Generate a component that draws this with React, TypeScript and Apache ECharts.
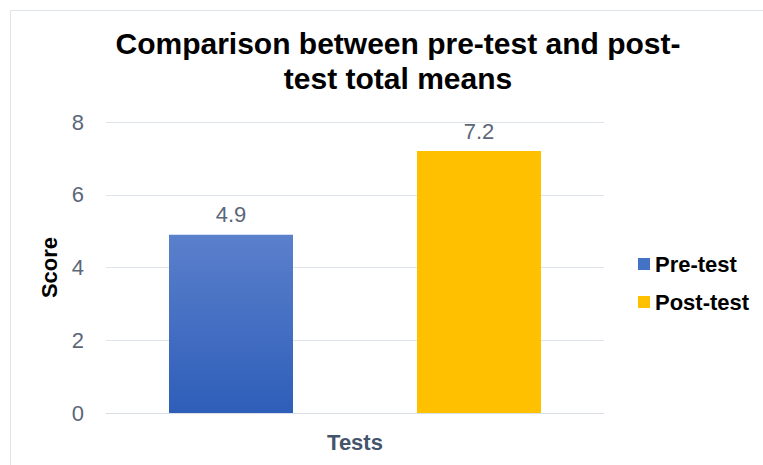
import React, { useEffect, useRef } from "react";
import * as echarts from "echarts";

const titleText = "Comparison between pre-test and post-\ntest total means";
const categories = [""];
const seriesNames = ["Pre-test", "Post-test"];
const preTest = [4.9];
const postTest = [7.2];
const yTicks = { min: 0, max: 8, interval: 2 };

export default function App() {
  const ref = useRef<HTMLDivElement>(null);
  useEffect(() => {
    if (!ref.current) return;
    const chart = echarts.init(ref.current, undefined, { renderer: "svg" });
    const font = "Liberation Sans, Arial, sans-serif";
    chart.setOption({
      animation: false,
      textStyle: { fontFamily: font },
      graphic: [
        {
          type: "rect",
          shape: { x: 10.5, y: 10.5, width: 800, height: 500 },
          style: { fill: "none", stroke: "#dfe3ea", lineWidth: 1 },
          silent: true,
        },
      ],
      title: {
        text: titleText,
        left: 393,
        top: 21,
        textAlign: "center",
        textStyle: { fontSize: 30, fontWeight: "bold", color: "#000", lineHeight: 35, fontFamily: font },
      },
      legend: {
        orient: "vertical",
        left: 633,
        top: 248,
        itemWidth: 12,
        itemHeight: 12,
        itemGap: 16,
        icon: "rect",
        textStyle: { fontSize: 22, fontWeight: "bold", color: "#000", fontFamily: font },
        data: [
          { name: seriesNames[0], itemStyle: { color: "#4472C4" } },
          { name: seriesNames[1], itemStyle: { color: "#FFC000" } },
        ],
      },
      grid: { left: 106, right: 159, top: 122, bottom: 52 },
      xAxis: {
        type: "category",
        data: categories,
        name: "Tests",
        nameLocation: "middle",
        nameGap: 18,
        nameTextStyle: { fontSize: 22, fontWeight: "bold", color: "#44546A", fontFamily: font },
        axisLine: { lineStyle: { color: "#d9dee6" } },
        axisTick: { show: false },
        axisLabel: { show: false },
      },
      yAxis: {
        type: "value",
        min: yTicks.min,
        max: yTicks.max,
        interval: yTicks.interval,
        name: "Score",
        nameLocation: "middle",
        nameGap: 46,
        nameTextStyle: { fontSize: 22, fontWeight: "bold", color: "#000", fontFamily: font },
        axisLabel: { fontSize: 22, color: "#5b6779", margin: 22, fontFamily: font },
        axisLine: { show: false },
        axisTick: { show: false },
        splitLine: { lineStyle: { color: "#dfe3ea" } },
      },
      series: [
        {
          name: seriesNames[0],
          type: "bar",
          data: preTest,
          barWidth: 124,
          barGap: "100%",
          itemStyle: {
            color: new echarts.graphic.LinearGradient(0, 0, 0, 1, [
              { offset: 0, color: "#5b80cc" },
              { offset: 1, color: "#2e5eb9" },
            ]),
          },
          label: { show: true, position: "top", distance: 9, fontSize: 22, color: "#5b6779", fontFamily: font },
        },
        {
          name: seriesNames[1],
          type: "bar",
          data: postTest,
          barWidth: 124,
          itemStyle: { color: "#FFC000" },
          label: { show: true, position: "top", distance: 9, fontSize: 22, color: "#5b6779", fontFamily: font },
        },
      ],
    });
    return () => chart.dispose();
  }, []);
  return (
    <div
      ref={ref}
      style={{ position: "absolute", left: 0, top: 0, width: 763, height: 465, background: "#fff" }}
    />
  );
}
